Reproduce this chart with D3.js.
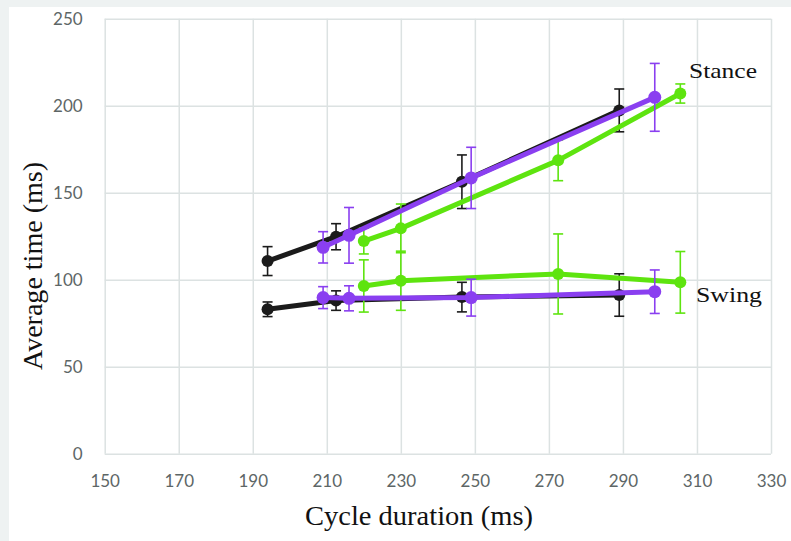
<!DOCTYPE html>
<html>
<head>
<meta charset="utf-8">
<script src="https://cdn.jsdelivr.net/npm/d3@7"></script>
<style>
  html, body { margin: 0; padding: 0; background: #ffffff; }
  svg { display: block; }
</style>
</head>
<body>
<svg id="chart" width="791" height="541"></svg>
<script>
// ---- data ----
const xTicks = [150, 170, 190, 210, 230, 250, 270, 290, 310, 330];
const yTicks = [0, 50, 100, 150, 200, 250];

const blackX = [194, 212.5, 246.5, 289];
const blackStance = [110.7, 124.7, 156.3, 197.3];
const blackStanceErr = [8.3, 7.5, 15.4, 12.3];
const blackSwing = [83, 88, 90, 91.2];
const blackSwingErr = [4.2, 5.6, 8.5, 12.2];

const purpleX = [209, 216, 249, 298.6];
const purpleStance = [118.6, 125.5, 158.5, 204.8];
const purpleStanceErr = [9, 16, 17.6, 19.5];
const purpleSwing = [89.7, 89.3, 89.7, 93.1];
const purpleSwingErr = [6.3, 7.2, 10.6, 12.5];

const greenX = [220, 230, 272.5, 305.5];
const greenStance = [122.2, 129.5, 168.6, 207];
const greenStanceErr = [7.4, 14, 11.7, 5.5];
const greenSwing = [96.4, 99.4, 103.3, 98.5];
const greenSwingErr = [15, 17, 23, 17.7];

const seriesLabels = ["Stance", "Swing"];
const xTitle = "Cycle duration (ms)";
const yTitle = "Average time (ms)";

// ---- drawing ----
(function () {
const svg = d3.select("#chart");
const W = 791, H = 541;
const pL = 104.7, pR = 771, pT = 18.7, pB = 453.7;

const x = d3.scaleLinear().domain([150, 330]).range([pL, pR]);
const y = d3.scaleLinear().domain([0, 250]).range([pB, pT]);

// background bands
svg.append("rect").attr("x", 0).attr("y", 0).attr("width", W).attr("height", H).attr("fill", "#ffffff");
svg.append("rect").attr("x", 0).attr("y", 0).attr("width", W).attr("height", 7).attr("fill", "#eef2f2");
svg.append("rect").attr("x", 0).attr("y", 0).attr("width", 9).attr("height", H).attr("fill", "#eef2f2");

const gridColor = "#dce2e2";
const gx = svg.append("g").attr("transform", `translate(0,${pB})`)
  .call(d3.axisBottom(x).tickValues(xTicks).tickSize(-(pB - pT)).tickFormat(""));
gx.select(".domain").remove();
gx.selectAll("line").attr("stroke", gridColor).attr("stroke-width", 1.5);

const gy = svg.append("g").attr("transform", `translate(${pL},0)`)
  .call(d3.axisLeft(y).tickValues(yTicks).tickSize(-(pR - pL)).tickFormat(""));
gy.select(".domain").remove();
gy.selectAll("line").attr("stroke", gridColor).attr("stroke-width", 1.5);

// tick labels
const ax = svg.append("g").attr("transform", `translate(0,${pB})`)
  .call(d3.axisBottom(x).tickValues(xTicks).tickSize(0).tickPadding(21).tickFormat(d3.format("d")));
ax.select(".domain").remove();
ax.selectAll("text").attr("font-family", "Lato, 'Open Sans', sans-serif").attr("font-size", 17).attr("fill", "#5d6666");

const ay = svg.append("g").attr("transform", `translate(${pL},0)`)
  .call(d3.axisLeft(y).tickValues(yTicks).tickSize(0).tickPadding(22).tickFormat(d3.format("d")));
ay.select(".domain").remove();
ay.selectAll("text").attr("font-family", "Lato, 'Open Sans', sans-serif").attr("font-size", 17).attr("fill", "#5d6666");

// axis titles
svg.append("text").attr("x", 419).attr("y", 525).attr("text-anchor", "middle")
  .attr("font-family", "'Liberation Serif', 'DejaVu Serif', serif").attr("font-size", 27)
  .attr("textLength", 228).attr("lengthAdjust", "spacingAndGlyphs")
  .attr("fill", "#111").text(xTitle);
svg.append("text").attr("transform", "translate(42,266) rotate(-90)").attr("text-anchor", "middle")
  .attr("font-family", "'Liberation Serif', 'DejaVu Serif', serif").attr("font-size", 27)
  .attr("textLength", 208).attr("lengthAdjust", "spacingAndGlyphs")
  .attr("fill", "#111").text(yTitle);

// series
const series = [
  { color: "#1b1b1b", xs: blackX, groups: [[blackStance, blackStanceErr], [blackSwing, blackSwingErr]], r: 6 },
  { color: "#5ee40f", xs: greenX, groups: [[greenStance, greenStanceErr], [greenSwing, greenSwingErr]], r: 6 },
  { color: "#8a3ff0", xs: purpleX, groups: [[purpleStance, purpleStanceErr], [purpleSwing, purpleSwingErr]], r: 6.5 }
];

const line = d3.line().x(d => x(d[0])).y(d => y(d[1]));
const cap = 5;

series.forEach(s => {
  const g = svg.append("g");
  s.groups.forEach(([vals, errs]) => {
    const pts = s.xs.map((xv, i) => [xv, vals[i], errs[i]]);
    const eb = g.append("g").attr("stroke", s.color).attr("stroke-width", 1.6).attr("fill", "none");
    pts.forEach(p => {
      eb.append("line").attr("x1", x(p[0])).attr("x2", x(p[0])).attr("y1", y(p[1] - p[2])).attr("y2", y(p[1] + p[2]));
      eb.append("line").attr("x1", x(p[0]) - cap).attr("x2", x(p[0]) + cap).attr("y1", y(p[1] - p[2])).attr("y2", y(p[1] - p[2]));
      eb.append("line").attr("x1", x(p[0]) - cap).attr("x2", x(p[0]) + cap).attr("y1", y(p[1] + p[2])).attr("y2", y(p[1] + p[2]));
    });
    g.append("path").datum(pts).attr("d", line).attr("fill", "none")
      .attr("stroke", s.color).attr("stroke-width", 5).attr("stroke-linejoin", "round");
    g.selectAll(null).data(pts).enter().append("circle")
      .attr("cx", p => x(p[0])).attr("cy", p => y(p[1])).attr("r", s.r).attr("fill", s.color);
  });
});

// series labels
svg.append("text").attr("x", 689).attr("y", 78)
  .attr("font-family", "'Liberation Serif', 'DejaVu Serif', serif").attr("font-size", 22)
  .attr("textLength", 68).attr("lengthAdjust", "spacingAndGlyphs")
  .attr("fill", "#111").text(seriesLabels[0]);
svg.append("text").attr("x", 696).attr("y", 302)
  .attr("font-family", "'Liberation Serif', 'DejaVu Serif', serif").attr("font-size", 22)
  .attr("textLength", 66).attr("lengthAdjust", "spacingAndGlyphs")
  .attr("fill", "#111").text(seriesLabels[1]);
})();
</script>
</body>
</html>
